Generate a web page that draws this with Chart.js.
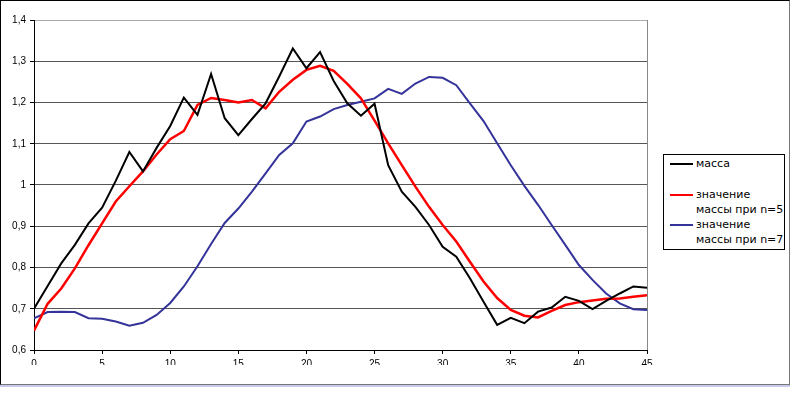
<!DOCTYPE html>
<html>
<head>
<meta charset="utf-8">
<script src="https://cdn.jsdelivr.net/npm/chart.js@4"></script>
<style>
    body { margin: 0; background: #fff; }
    #wrap { position: relative; width: 800px; height: 395px; overflow: hidden; }
    #frame {
        position: absolute; left: 0; top: 0; width: 788px; height: 383px;
        border: 1px solid #000; border-right-color: #777; border-bottom-color: #777;
        box-shadow: 0 2px 0 #c9c9ee;
    }
    #price-chart { position: absolute; left: 0; top: 0; }
    #legend {
        position: absolute; left: 663px; top: 154px; width: 120px; height: 93px;
        border: 1px solid #000; background: #fff;
        font: 11px "DejaVu Sans", sans-serif; color: #000;
        padding-top: 1px;
    }
    .item { position: relative; height: 30.5px; }
    .swatch { position: absolute; left: 6px; top: 7px; width: 23px; height: 2px; }
    .text { position: absolute; left: 32px; top: 0; line-height: 15.3px; white-space: pre-line; }
</style>
</head>
<body>
<div id="wrap">
    <div id="frame"></div>
    <canvas id="price-chart" width="800" height="395"></canvas>
    <div id="legend"></div>
</div>
<script>
// ===== Data =====
const xValues = [0, 1, 2, 3, 4, 5, 6, 7, 8, 9, 10, 11, 12, 13, 14, 15, 16, 17, 18, 19, 20, 21, 22,
    23, 24, 25, 26, 27, 28, 29, 30, 31, 32, 33, 34, 35, 36, 37, 38, 39, 40, 41, 42, 43, 44, 45];

// масса
const mass = [0.70, 0.755, 0.81, 0.855, 0.907, 0.945, 1.01, 1.08, 1.033, 1.09, 1.143, 1.212,
    1.17, 1.269, 1.162, 1.121, 1.16, 1.198, 1.263, 1.331, 1.283, 1.322, 1.252, 1.198, 1.168,
    1.197, 1.048, 0.984, 0.947, 0.903, 0.85, 0.826, 0.774, 0.717, 0.661, 0.678, 0.665, 0.693,
    0.703, 0.729, 0.719, 0.699, 0.719, 0.737, 0.754, 0.751];

// значение массы при n=5
const massN5 = [0.647, 0.712, 0.749, 0.798, 0.854, 0.907, 0.96, 0.997, 1.033, 1.074, 1.111, 1.131,
    1.194, 1.211, 1.206, 1.2, 1.206, 1.186, 1.226, 1.255, 1.279, 1.289, 1.277, 1.245, 1.21,
    1.156, 1.101, 1.048, 0.996, 0.947, 0.903, 0.863, 0.814, 0.766, 0.726, 0.697, 0.683, 0.679,
    0.695, 0.709, 0.716, 0.72, 0.724, 0.725, 0.729, 0.733];

// значение массы при n=7
const massN7 = [0.677, 0.692, 0.693, 0.692, 0.677, 0.676, 0.669, 0.659, 0.666, 0.685, 0.714, 0.754,
    0.803, 0.857, 0.908, 0.943, 0.984, 1.028, 1.073, 1.101, 1.154, 1.166, 1.184, 1.194, 1.202,
    1.21, 1.233, 1.221, 1.246, 1.262, 1.26, 1.242, 1.198, 1.155, 1.101, 1.048, 0.998, 0.952,
    0.903, 0.855, 0.806, 0.77, 0.737, 0.713, 0.699, 0.697];

const seriesLabels = ['масса', 'значение\nмассы при n=5', 'значение\nмассы при n=7'];
const yTicks = { min: 0.6, max: 1.4, step: 0.1 };
const xTicks = { min: 0, max: 45, step: 5 };

const toPoints = arr => arr.map((v, i) => ({ x: xValues[i], y: v }));
const fmt = v => String(Math.round(v * 10) / 10).replace('.', ',');

// HTML legend (Excel-style box with wrapped labels)
const htmlLegend = {
    id: 'htmlLegend',
    afterUpdate(chart) {
        const box = document.getElementById('legend');
        box.innerHTML = '';
        chart.data.datasets.forEach(ds => {
            const item = document.createElement('div');
            item.className = 'item';
            const sw = document.createElement('div');
            sw.className = 'swatch';
            sw.style.background = ds.borderColor;
            const tx = document.createElement('div');
            tx.className = 'text';
            tx.textContent = ds.label;
            item.appendChild(sw);
            item.appendChild(tx);
            box.appendChild(item);
        });
    }
};

const lineStyle = { pointRadius: 0, tension: 0, fill: false };

new Chart(document.getElementById('price-chart').getContext('2d'), {
    type: 'line',
    data: {
        datasets: [
            { label: seriesLabels[0], data: toPoints(mass), borderColor: '#000000', borderWidth: 2, ...lineStyle },
            { label: seriesLabels[1], data: toPoints(massN5), borderColor: '#ff0000', borderWidth: 2.5, ...lineStyle },
            { label: seriesLabels[2], data: toPoints(massN7), borderColor: '#333399', borderWidth: 2, ...lineStyle },
        ]
    },
    options: {
        responsive: false,
        animation: false,
        layout: { padding: { left: 0, top: 20, right: 153, bottom: 30 } },
        plugins: { legend: { display: false }, tooltip: { enabled: false } },
        scales: {
            x: {
                type: 'linear',
                min: xTicks.min,
                max: xTicks.max,
                afterFit: s => { s.height = 15; },
                ticks: { stepSize: xTicks.step, color: '#000', padding: 4, maxRotation: 0,
                    font: { family: '"Liberation Sans", Arial', size: 10 } },
                grid: {
                    drawOnChartArea: true,
                    color: c => (c.tick && c.tick.value === xTicks.max) ? '#888' : 'rgba(0,0,0,0)',
                    tickColor: '#000', tickLength: 4
                },
                border: { color: '#000', width: 1 }
            },
            y: {
                min: yTicks.min,
                max: yTicks.max,
                afterFit: s => { s.width = 34; },
                ticks: { stepSize: yTicks.step, color: '#000', padding: 4, callback: v => fmt(v),
                    font: { family: '"Liberation Sans", Arial', size: 10 } },
                grid: {
                    color: c => (c.tick && Math.abs(c.tick.value - yTicks.max) < 1e-6) ? '#aaa' : '#555',
                    tickColor: '#000', tickLength: 4
                },
                border: { color: '#000', width: 1 }
            }
        }
    },
    plugins: [htmlLegend]
});
</script>
</body>
</html>
